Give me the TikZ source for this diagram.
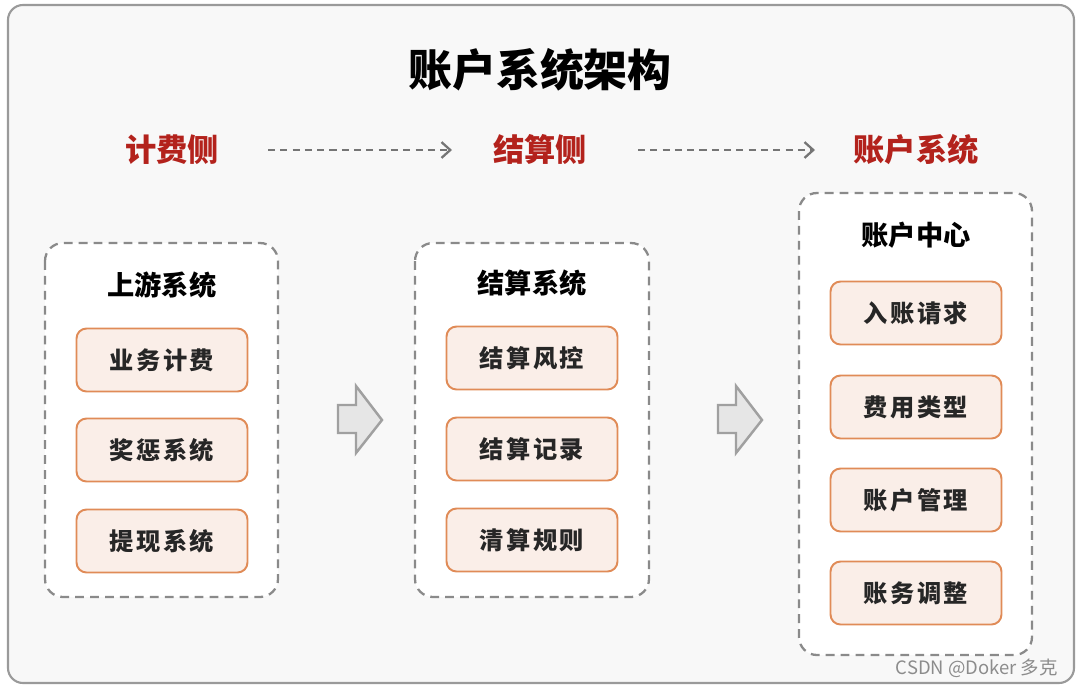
\documentclass[tikz,border=0pt]{standalone}
\usepackage{fontspec}
\newfontfamily\cjk{Noto Sans CJK SC}
\newfontfamily\cjkls{Noto Sans CJK SC}[LetterSpace=10]
\usetikzlibrary{arrows.meta}
\definecolor{bgc}{HTML}{F8F8F8}
\definecolor{framec}{HTML}{9A9A9A}
\definecolor{redc}{HTML}{B3221C}
\definecolor{dashc}{HTML}{8A8A8A}
\definecolor{itemfill}{HTML}{FAEEE8}
\definecolor{itemdraw}{HTML}{E08B57}
\definecolor{blockfill}{HTML}{E6E6E6}
\definecolor{blockdraw}{HTML}{A0A0A0}
\tikzset{
  P/.style={x=0.02cm,y=-0.02cm},
  grp/.style={draw=dashc,dashed,dash pattern=on 5pt off 3.5pt,line width=1.3pt,fill=white,rounded corners=0.36cm},
  itembox/.style={draw=itemdraw,line width=1.1pt,fill=itemfill,rounded corners=0.2cm,minimum width=3.42cm,minimum height=1.26cm,inner sep=0pt,
     font=\cjkls\bfseries\fontsize{13.8}{16}\selectfont,text=black!85},
  grptitle/.style={font=\cjk\bfseries\fontsize{15.5}{18}\selectfont,text=black},
  sidehead/.style={font=\cjk\bfseries\fontsize{17.8}{20}\selectfont,text=redc},
  flow/.style={draw=dashc!85!black,line width=1.3pt,dash pattern=on 4pt off 3pt,-{Straight Barb[length=5pt,width=9pt]}},
  blk/.style={draw=blockdraw,line width=1.4pt,fill=blockfill}
}
\begin{document}
\begin{tikzpicture}[P]
\useasboundingbox (0,0) rectangle (1080,687);
\draw[draw=framec,line width=1.2pt,fill=bgc,rounded corners=0.3cm] (8,5) rectangle (1074,683);
% title
\node[font=\cjk\bfseries\fontsize{25}{30}\selectfont] (title) at (540,70) {账户系统架构};
% side headers
\node[sidehead] (h1) at (172,150) {计费侧};
\node[sidehead] (h2) at (540,150) {结算侧};
\node[sidehead] (h3) at (916,150) {账户系统};
\coordinate (a1s) at (268,150); \coordinate (a1e) at (452,150);
\coordinate (a2s) at (638,150); \coordinate (a2e) at (815,150);
\draw[flow] (a1s) -- (a1e);
\draw[flow] (a2s) -- (a2e);
% groups
\draw[grp] (45,243) rectangle (278,597);
\draw[grp] (415,243) rectangle (649,597);
\draw[grp] (799,193) rectangle (1032,655);
\node[grptitle] (g1) at (162,285) {上游系统};
\node[grptitle] (g2) at (532,283) {结算系统};
\node[grptitle] (g3) at (916,235) {账户中心};
% items group 1
\node[itembox] (i11) at (162,360) {业务计费};
\node[itembox] (i12) at (162,450) {奖惩系统};
\node[itembox] (i13) at (162,541) {提现系统};
% items group 2
\node[itembox] (i21) at (532,358) {结算风控};
\node[itembox] (i22) at (532,449) {结算记录};
\node[itembox] (i23) at (532,540) {清算规则};
% items group 3
\node[itembox] (i31) at (916,313) {入账请求};
\node[itembox] (i32) at (916,407) {费用类型};
\node[itembox] (i33) at (916,500) {账户管理};
\node[itembox] (i34) at (916,593) {账务调整};
% block arrows
\draw[blk] (338,405) -- (356,405) -- (356,386) -- (382,420) -- (356,453) -- (356,433) -- (338,433) -- cycle;
\draw[blk] (718,405) -- (736,405) -- (736,386) -- (762,420) -- (736,453) -- (736,433) -- (718,433) -- cycle;
% watermark
\node[font=\cjk\fontsize{10.5}{12}\selectfont,text=black!45,anchor=east] (wm) at (1064,668) {CSDN @Doker 多克};
\end{tikzpicture}
\end{document}
